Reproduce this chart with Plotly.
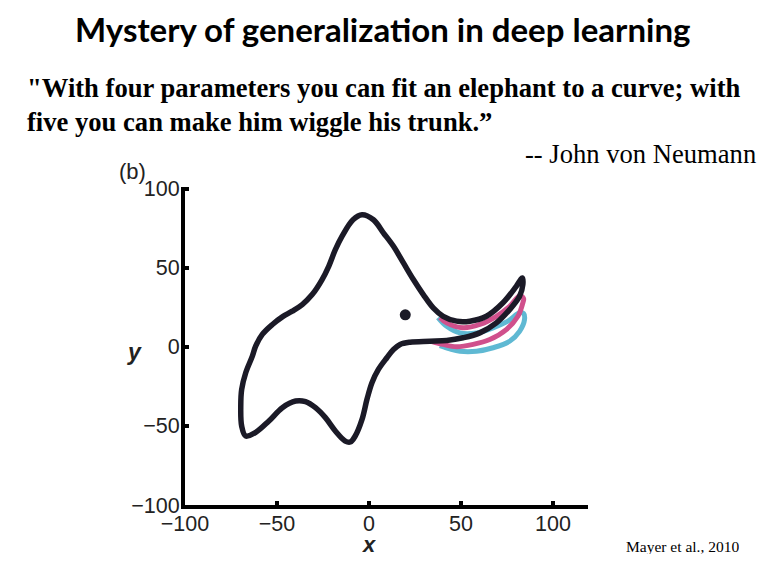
import plotly.graph_objects as go

# ---- data ----
body_x = [-3.8, 2.4, 7.9, 13.3, 18.7, 24.1, 29.5, 34.9, 40.3, 47.6, 54.8, 63.8, 72.8, 80.0, 83.3,
          83.6, 81.8, 76.4, 69.2, 60.2, 51.1, 42.2, 33.1, 22.3, 16.9, 13.3, 9.7, 5.1, 1.6, -1.1,
          -3.8, -7.5, -10.2, -12.9, -18.3, -23.7, -29.1, -34.5, -39.9, -47.1, -54.4, -61.6, -67.0,
          -69.2, -69.7, -69.2, -67.0, -63.4, -61.6, -58.0, -52.5, -47.1, -41.7, -36.3, -30.9,
          -25.5, -21.9, -18.3, -14.7, -8.7, -3.8]
body_y = [83.5, 80.3, 71.9, 63.5, 53.0, 42.5, 33.0, 24.6, 19.3, 16.2, 16.2, 19.3, 27.8, 38.2, 43.5,
          39.3, 31.9, 23.5, 15.1, 8.8, 5.7, 4.0, 3.5, 2.9, 1.5, -1.7, -6.9, -14.3, -22.7, -33.2,
          -45.9, -56.4, -60.2, -59.6, -53.2, -44.8, -38.5, -34.7, -34.3, -38.5, -46.9, -54.1, -56.4,
          -50.1, -37.5, -26.9, -16.4, -5.9, 0.4, 7.8, 14.1, 18.9, 22.5, 26.7, 33.0,
          42.5, 50.9, 61.4, 69.8, 80.3, 83.5]

trunk_pink_x = [38.5, 42.2, 51.1, 60.2, 69.2, 76.4, 82.1, 84.0, 83.6, 80.9, 74.6, 65.6, 56.6, 47.6, 40.3, 34.2]
trunk_pink_y = [18.5, 15.1, 12.0, 14.1, 19.3, 25.6, 32.4, 30.5, 27.8, 19.3, 10.9, 4.6, 1.5, 0.0, 1.5, 3.3]

trunk_cyan_x = [37.5, 42.2, 49.4, 58.4, 67.4, 75.5, 81.8, 84.0, 84.5, 81.8, 76.4, 67.4, 58.4, 49.4, 43.9, 38.5]
trunk_cyan_y = [18.5, 13.0, 8.8, 8.8, 12.0, 16.2, 21.5, 21.0, 17.2, 9.8, 3.5, -0.6, -2.8, -2.8, -1.3, 0.8]

eye_x = [19.7]
eye_y = [20.2]

tick_vals = [-100, -50, 0, 50, 100]
tick_text = ["\u2212100", "\u221250", "0", "50", "100"]

# ---- layout geometry (window pixels; page body has an 8px margin) ----
OFF = 8
W, H = 770 - 2 * OFF, 563 - 2 * OFF
L, R, T, B = 185, 588, 187, 505


def paper(px, py):
    return (px - L) / (R - L), (B - py) / (B - T)


fig = go.Figure()
line_color = "#1b1a27"
fig.add_trace(go.Scatter(x=trunk_cyan_x, y=trunk_cyan_y, mode="lines",
                         line=dict(color="#5fb9d3", width=5, shape="spline", smoothing=1.0),
                         hoverinfo="skip", showlegend=False))
fig.add_trace(go.Scatter(x=trunk_pink_x, y=trunk_pink_y, mode="lines",
                         line=dict(color="#d0508c", width=5, shape="spline", smoothing=1.0),
                         hoverinfo="skip", showlegend=False))
fig.add_trace(go.Scatter(x=body_x, y=body_y, mode="lines",
                         line=dict(color=line_color, width=5.5, shape="spline", smoothing=1.0),
                         hoverinfo="skip", showlegend=False))
fig.add_trace(go.Scatter(x=eye_x, y=eye_y, mode="markers",
                         marker=dict(color=line_color, size=11),
                         hoverinfo="skip", showlegend=False))

annotations = []


def add_text(text, px, py, size, family, xanchor="center", yanchor="middle", color="#000", **kw):
    x, y = paper(px, py)
    annotations.append(dict(text=text, x=x, y=y, xref="paper", yref="paper", showarrow=False,
                            xanchor=xanchor, yanchor=yanchor,
                            font=dict(size=size, family=family, color=color), **kw))


add_text("<b>Mystery of generalization in deep learning</b>", 382, OFF, 33, "Lato",
         yanchor="top", borderpad=0)
add_text("<b>\"With four parameters you can fit an elephant to a curve; with</b>", 25, 88, 26.6,
         "Liberation Serif", xanchor="left")
add_text("<b>five you can make him wiggle his trunk.\u201d</b>", 25, 122, 26.6,
         "Liberation Serif", xanchor="left")
add_text("-- John von Neumann", 758, 154, 26.6, "Liberation Serif", xanchor="right")
add_text("Mayer et al., 2010", 740, 563 - OFF, 15.5, "Liberation Serif", xanchor="right",
         yanchor="bottom", height=16, borderpad=0)
add_text("(b)", 132, 172, 22, "Liberation Sans", color="#222")
add_text("<b><i>y</i></b>", 134, 352, 23, "Liberation Sans", color="#222")
add_text("<b><i>x</i></b>", 369, 544, 22, "Liberation Sans", color="#222", height=16, borderpad=0)

axis_common = dict(showline=True, linewidth=4, linecolor="#000", showgrid=False, zeroline=False,
                   ticks="inside", ticklen=4, tickwidth=4, tickcolor="#000",
                   tickvals=tick_vals, ticktext=tick_text,
                   tickfont=dict(size=21.5, family="Liberation Sans", color="#222"))

fig.update_layout(
    width=W, height=H,
    margin=dict(l=L - OFF, r=(W + OFF) - R, t=T - OFF, b=(H + OFF) - B, pad=0),
    paper_bgcolor="white", plot_bgcolor="white",
    xaxis=dict(range=[-100, 119], ticklabelstandoff=-4, **axis_common),
    yaxis=dict(range=[-100, 101], ticklabelstandoff=-3, **axis_common),
    annotations=annotations,
    showlegend=False,
)

fig.write_html("out.html")
